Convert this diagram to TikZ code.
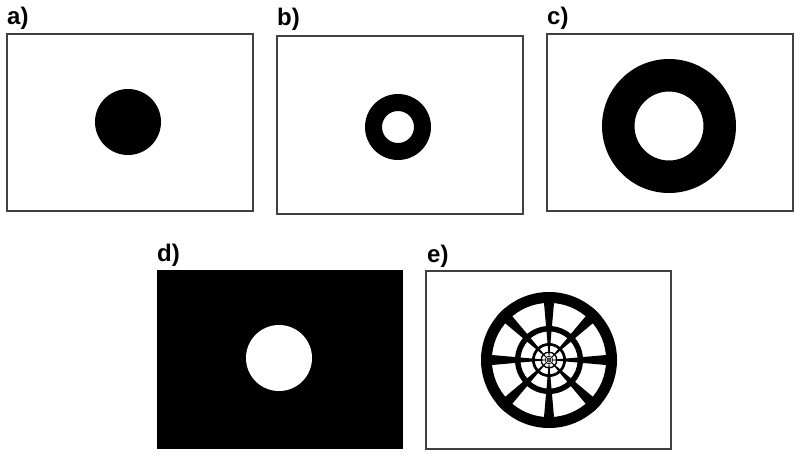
\documentclass[tikz,border=0pt]{standalone}
\usepackage{fontspec}
\setmainfont{Liberation Sans}
\usepackage{tikz}
\usetikzlibrary{calc}

\tikzset{
  panel/.style={draw=black!75, line width=1.3pt, fill=white},
  tag/.style={anchor=base west, inner sep=0pt, font=\bfseries\fontsize{24}{28}\selectfont}
}

\begin{document}
\begin{tikzpicture}[x=1pt,y=-1pt]
\useasboundingbox (0,0) rectangle (800,458);
% frames
\draw[panel] (7,34) rectangle (253,211);
\draw[panel] (277,36) rectangle (523,214);
\draw[panel] (547,34) rectangle (793,211);
\fill[black] (157,270) rectangle (403,449);
\draw[panel] (426,271) rectangle (671,449);
% labels
\node[tag] (la) at (7,24) {a)};
\node[tag] (lb) at (277,25) {b)};
\node[tag] (lc) at (547,24) {c)};
\node[tag] (ld) at (157,261) {d)};
\node[tag] (le) at (427,262) {e)};
% a) disc
\fill[black] (128,122) circle [radius=33];
% b) small ring
\fill[black, even odd rule] (398,127) circle [radius=33] circle [radius=16];
% c) large ring
\fill[black, even odd rule] (669,126) circle [radius=67] circle [radius=34.5];
% d) white hole
\fill[white] (279,358) circle [radius=33];
% e) nested rings and spokes
\coordinate (ec) at (549,360);
\foreach \k in {0,...,5} {
  \pgfmathsetmacro{\R}{68/2^\k}
  \fill[black, even odd rule] (ec) circle [radius=\R] circle [radius=0.84*\R];
}
\foreach \a in {0,45,...,315} {
  \fill[black] (ec) -- ($(ec)+(\a-5:68)$) arc [start angle=\a-5, end angle=\a+5, radius=68] -- cycle;
}
\end{tikzpicture}
\end{document}
